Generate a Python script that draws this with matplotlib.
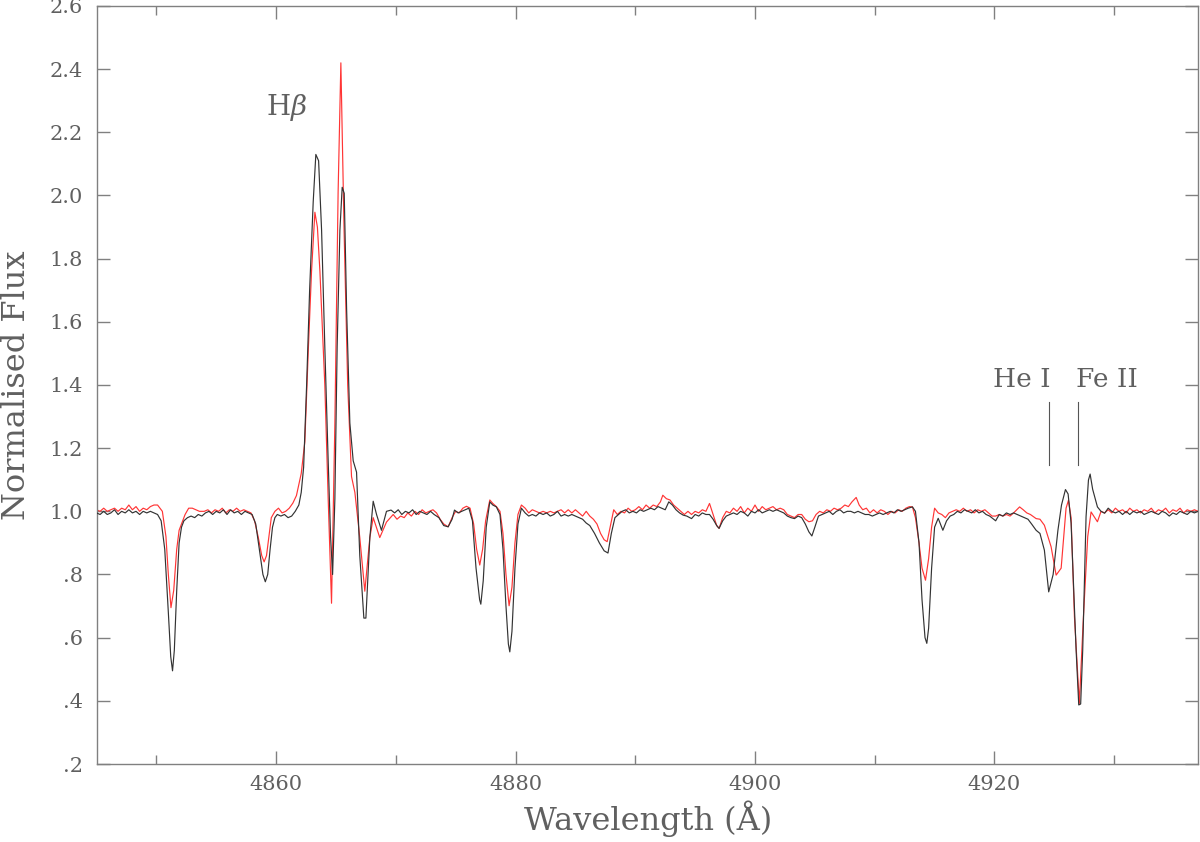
import numpy as np
import matplotlib
matplotlib.use("Agg")
import matplotlib.pyplot as plt
from matplotlib.ticker import MultipleLocator

# spectrum 1 (black)
wl_black = [
    4845.0, 4845.3, 4845.6, 4845.9, 4846.2, 4846.5, 4846.8, 4847.1, 4847.4, 4847.7,
    4848.0, 4848.3, 4848.6, 4848.9, 4849.2, 4849.5, 4849.8, 4850.1, 4850.4, 4850.7,
    4851.0, 4851.2, 4851.35, 4851.5, 4851.7, 4851.9, 4852.1, 4852.3, 4852.6, 4852.9,
    4853.2, 4853.5, 4853.8, 4854.1, 4854.4, 4854.7, 4855.0, 4855.3, 4855.6, 4855.9,
    4856.2, 4856.5, 4856.8, 4857.1, 4857.4, 4857.7, 4858.0, 4858.3, 4858.6, 4858.9,
    4859.1, 4859.3, 4859.5, 4859.7, 4859.9, 4860.1, 4860.4, 4860.7, 4861.0, 4861.3,
    4861.6, 4861.9, 4862.1, 4862.3, 4862.55, 4862.8, 4863.1, 4863.32, 4863.55, 4863.8,
    4864.07, 4864.35, 4864.55, 4864.72, 4864.91, 4865.1, 4865.33, 4865.52, 4865.69, 4865.89,
    4866.16, 4866.44, 4866.72, 4866.99, 4867.33, 4867.5, 4867.83, 4868.11, 4868.39, 4868.8,
    4869.22, 4869.6, 4869.9, 4870.2, 4870.5, 4870.8, 4871.1, 4871.4, 4871.7, 4872.0,
    4872.3, 4872.6, 4872.9, 4873.2, 4873.6, 4874.0, 4874.37, 4874.7, 4874.9, 4875.2,
    4875.5, 4875.8, 4876.1, 4876.4, 4876.7, 4877.0, 4877.1, 4877.3, 4877.55, 4877.85,
    4878.1, 4878.4, 4878.7, 4878.95, 4879.2, 4879.4, 4879.52, 4879.7, 4879.95, 4880.2,
    4880.49, 4880.8, 4881.1, 4881.4, 4881.7, 4882.0, 4882.3, 4882.6, 4882.9, 4883.2,
    4883.5, 4883.8, 4884.1, 4884.4, 4884.7, 4885.0, 4885.3, 4885.6, 4885.9, 4886.2,
    4886.6, 4887.0, 4887.4, 4887.72, 4888.0, 4888.3, 4888.6, 4888.9, 4889.2, 4889.5,
    4889.8, 4890.1, 4890.4, 4890.7, 4891.0, 4891.3, 4891.6, 4891.9, 4892.2, 4892.5,
    4892.8, 4893.1, 4893.4, 4893.7, 4894.0, 4894.3, 4894.7, 4895.0, 4895.3, 4895.6,
    4895.9, 4896.2, 4896.5, 4896.8, 4897.0, 4897.3, 4897.6, 4897.9, 4898.2, 4898.5,
    4898.8, 4899.1, 4899.4, 4899.7, 4900.0, 4900.3, 4900.6, 4900.9, 4901.2, 4901.5,
    4901.8, 4902.1, 4902.4, 4902.7, 4903.0, 4903.3, 4903.6, 4903.9, 4904.2, 4904.5,
    4904.75, 4905.0, 4905.3, 4905.6, 4905.9, 4906.2, 4906.5, 4906.8, 4907.1, 4907.4,
    4907.7, 4908.0, 4908.3, 4908.6, 4908.9, 4909.2, 4909.5, 4909.8, 4910.1, 4910.4,
    4910.7, 4911.0, 4911.3, 4911.6, 4911.9, 4912.2, 4912.5, 4912.8, 4913.15, 4913.4,
    4913.7, 4913.95, 4914.2, 4914.35, 4914.5, 4914.75, 4915.0, 4915.3, 4915.69, 4916.0,
    4916.3, 4916.6, 4916.9, 4917.2, 4917.5, 4917.8, 4918.1, 4918.4, 4918.7, 4919.0,
    4919.3, 4919.6, 4920.1, 4920.4, 4920.7, 4921.0, 4921.3, 4921.6, 4921.9, 4922.2,
    4922.5, 4922.8, 4923.1, 4923.48, 4923.8, 4924.17, 4924.53, 4924.9, 4925.3, 4925.6,
    4925.93, 4926.15, 4926.4, 4926.82, 4927.04, 4927.2, 4927.37, 4927.65, 4927.85, 4927.99,
    4928.2, 4928.6, 4928.9, 4929.2, 4929.5, 4929.8, 4930.1, 4930.4, 4930.7, 4931.0,
    4931.3, 4931.6, 4931.9, 4932.2, 4932.5, 4932.8, 4933.1, 4933.4, 4933.7, 4934.0,
    4934.3, 4934.6, 4934.9, 4935.2, 4935.5, 4935.8, 4936.1, 4936.4, 4936.7, 4937.0,
]
flux_black = [
    0.995, 0.99, 1.0, 0.99, 0.995, 1.005, 0.99, 1.0, 0.995, 1.005,
    0.995, 1.0, 0.99, 1.0, 0.995, 1.0, 0.995, 0.99, 0.97, 0.88,
    0.68, 0.54, 0.495, 0.56, 0.75, 0.90, 0.95, 0.97, 0.98, 0.985,
    0.98, 0.99, 0.985, 0.995, 1.0, 0.99, 1.0, 0.995, 1.005, 0.99,
    1.005, 0.995, 1.0, 0.99, 1.0, 0.995, 0.99, 0.96, 0.88, 0.80,
    0.777, 0.80, 0.88, 0.95, 0.98, 0.99, 0.985, 0.99, 0.98, 0.985,
    1.0, 1.02, 1.06, 1.14, 1.40, 1.70, 1.98, 2.13, 2.11, 1.89,
    1.52, 1.16, 0.92, 0.80, 1.04, 1.52, 1.89, 2.026, 2.007, 1.64,
    1.28, 1.16, 1.124, 0.86, 0.662, 0.662, 0.917, 1.032, 0.99, 0.94,
    1.0, 1.004, 0.995, 1.005, 0.99, 1.0, 0.995, 1.005, 0.99, 1.0,
    0.995, 0.99, 1.0, 0.99, 0.98, 0.955, 0.951, 0.975, 1.004, 0.995,
    1.0, 1.005, 1.01, 0.97, 0.82, 0.72, 0.706, 0.78, 0.95, 1.03,
    1.02, 1.014, 0.99, 0.88, 0.70, 0.58, 0.555, 0.62, 0.82, 0.96,
    1.01, 0.995, 0.985, 0.99, 0.985, 0.995, 0.99, 0.995, 0.985, 0.99,
    1.0, 0.985, 0.99, 0.985, 0.99, 0.985, 0.98, 0.975, 0.963, 0.955,
    0.93, 0.90, 0.875, 0.868, 0.93, 0.98, 0.99, 1.0, 1.005, 0.995,
    1.0, 0.995, 1.005, 1.0, 1.005, 1.01, 1.005, 1.015, 1.01, 1.005,
    1.03, 1.02, 1.005, 0.995, 0.988, 0.985, 0.977, 0.99, 0.985, 0.995,
    0.99, 0.99, 0.975, 0.955, 0.946, 0.97, 0.985, 0.99, 0.995, 0.99,
    1.0, 0.995, 0.985, 1.0, 0.995, 1.005, 0.995, 1.0, 1.005, 1.0,
    1.005, 1.0, 0.995, 0.985, 0.98, 0.977, 0.985, 0.98, 0.96, 0.935,
    0.922, 0.95, 0.985, 0.99, 0.995, 1.0, 0.99, 1.0, 1.005, 0.995,
    1.0, 1.0, 0.995, 1.0, 0.995, 0.99, 0.99, 0.985, 0.99, 0.995,
    0.99, 0.995, 1.0, 0.995, 1.005, 1.0, 1.005, 1.01, 1.014, 1.0,
    0.90, 0.72, 0.60, 0.582, 0.63, 0.82, 0.95, 0.978, 0.94, 0.97,
    0.985, 0.99, 1.0, 0.995, 1.005, 1.0, 0.995, 1.005, 0.995, 1.0,
    0.99, 0.985, 0.97, 0.99, 0.985, 0.995, 0.99, 0.995, 0.99, 0.985,
    0.98, 0.975, 0.96, 0.94, 0.93, 0.877, 0.745, 0.80, 0.94, 1.02,
    1.069, 1.055, 0.963, 0.56, 0.387, 0.39, 0.56, 0.983, 1.099, 1.118,
    1.07, 1.014, 1.0, 0.994, 1.01, 1.0, 0.995, 1.0, 0.99, 1.0,
    0.99, 1.0, 0.995, 1.0, 0.99, 0.995, 1.0, 0.995, 0.99, 1.0,
    0.995, 0.985, 0.995, 0.99, 1.0, 0.995, 0.99, 1.0, 0.995, 1.0,
]

# spectrum 2 (red)
wl_red = [
    4845.0, 4845.3, 4845.6, 4845.9, 4846.2, 4846.5, 4846.8, 4847.1, 4847.4, 4847.7,
    4848.0, 4848.3, 4848.6, 4848.9, 4849.2, 4849.5, 4849.8, 4850.1, 4850.5, 4850.8,
    4851.0, 4851.22, 4851.45, 4851.7, 4851.9, 4852.1, 4852.4, 4852.7, 4853.0, 4853.3,
    4853.6, 4854.0, 4854.3, 4854.6, 4854.9, 4855.2, 4855.5, 4855.8, 4856.1, 4856.4,
    4856.7, 4857.0, 4857.3, 4857.6, 4857.9, 4858.2, 4858.5, 4858.8, 4859.0, 4859.2,
    4859.4, 4859.6, 4859.9, 4860.2, 4860.5, 4860.8, 4861.1, 4861.4, 4861.7, 4862.1,
    4862.4, 4862.7, 4862.96, 4863.24, 4863.45, 4863.66, 4864.07, 4864.35, 4864.63, 4864.91,
    4865.18, 4865.41, 4865.68, 4865.98, 4866.3, 4866.58, 4866.99, 4867.41, 4867.83, 4868.11,
    4868.66, 4869.22, 4869.78, 4870.1, 4870.4, 4870.7, 4871.0, 4871.3, 4871.6, 4871.9,
    4872.2, 4872.5, 4872.8, 4873.1, 4873.4, 4873.7, 4874.0, 4874.37, 4874.7, 4875.0,
    4875.3, 4875.6, 4875.9, 4876.2, 4876.5, 4876.75, 4877.01, 4877.25, 4877.5, 4877.85,
    4878.1, 4878.4, 4878.7, 4878.95, 4879.2, 4879.46, 4879.7, 4879.95, 4880.2, 4880.49,
    4880.8, 4881.1, 4881.4, 4881.7, 4882.0, 4882.3, 4882.6, 4882.9, 4883.2, 4883.5,
    4883.8, 4884.1, 4884.4, 4884.7, 4885.0, 4885.3, 4885.6, 4885.9, 4886.2, 4886.5,
    4886.8, 4887.1, 4887.4, 4887.65, 4887.9, 4888.2, 4888.5, 4888.8, 4889.1, 4889.4,
    4889.7, 4890.0, 4890.3, 4890.6, 4890.9, 4891.2, 4891.5, 4891.8, 4892.1, 4892.3,
    4892.6, 4892.9, 4893.2, 4893.5, 4893.8, 4894.1, 4894.4, 4894.7, 4895.0, 4895.3,
    4895.6, 4895.9, 4896.2, 4896.5, 4896.8, 4897.0, 4897.3, 4897.6, 4897.9, 4898.2,
    4898.5, 4898.8, 4899.1, 4899.4, 4899.7, 4900.0, 4900.3, 4900.6, 4900.9, 4901.2,
    4901.5, 4901.8, 4902.1, 4902.4, 4902.7, 4903.0, 4903.3, 4903.6, 4903.9, 4904.2,
    4904.5, 4904.8, 4905.1, 4905.4, 4905.7, 4906.0, 4906.3, 4906.6, 4906.9, 4907.2,
    4907.5, 4907.8, 4908.1, 4908.45, 4908.7, 4909.0, 4909.3, 4909.6, 4909.9, 4910.2,
    4910.5, 4910.8, 4911.1, 4911.4, 4911.7, 4912.0, 4912.3, 4912.6, 4912.9, 4913.15,
    4913.4, 4913.7, 4913.95, 4914.24, 4914.5, 4914.75, 4915.0, 4915.3, 4915.6, 4915.9,
    4916.2, 4916.5, 4916.8, 4917.1, 4917.4, 4917.7, 4918.0, 4918.3, 4918.6, 4918.9,
    4919.2, 4919.5, 4919.8, 4920.1, 4920.4, 4920.7, 4921.0, 4921.3, 4921.6, 4922.1,
    4922.4, 4922.7, 4923.0, 4923.48, 4923.8, 4924.17, 4924.73, 4925.15, 4925.57, 4925.98,
    4926.18, 4926.4, 4926.68, 4927.09, 4927.43, 4927.79, 4928.07, 4928.6, 4928.9, 4929.2,
    4929.5, 4929.8, 4930.1, 4930.4, 4930.7, 4931.0, 4931.3, 4931.6, 4931.9, 4932.2,
    4932.5, 4932.8, 4933.1, 4933.4, 4933.7, 4934.0, 4934.3, 4934.6, 4934.9, 4935.2,
    4935.5, 4935.8, 4936.1, 4936.4, 4936.7, 4937.0,
]
flux_red = [
    1.005, 1.0, 1.01, 1.0, 1.005, 1.01, 1.0, 1.01, 1.005, 1.02,
    1.005, 1.015, 1.0, 1.01, 1.005, 1.015, 1.02, 1.02, 1.0, 0.92,
    0.80, 0.695, 0.75, 0.88, 0.94, 0.96, 0.99, 1.01, 1.01, 1.005,
    1.0, 1.0, 1.005, 0.995, 1.005, 1.0, 1.01, 0.995, 1.005, 1.0,
    1.01, 1.0, 1.005, 1.0, 0.995, 0.97, 0.92, 0.86, 0.84, 0.86,
    0.92, 0.98, 1.0, 1.01, 0.995, 1.0, 1.01, 1.026, 1.05, 1.12,
    1.22, 1.52, 1.76, 1.947, 1.90, 1.76, 1.40, 1.04, 0.709, 1.28,
    2.01, 2.42, 1.887, 1.40, 1.11, 1.06, 0.917, 0.747, 0.917, 0.98,
    0.917, 0.966, 0.99, 0.975, 0.985, 0.98, 0.995, 0.985, 1.0, 0.99,
    1.005, 0.995, 1.0, 1.005, 0.995, 0.975, 0.96, 0.951, 0.98, 1.0,
    0.995, 1.01, 1.016, 1.01, 0.96, 0.88, 0.83, 0.88, 0.97, 1.036,
    1.025, 1.015, 1.0, 0.93, 0.80, 0.701, 0.76, 0.90, 0.99, 1.02,
    1.01, 0.995, 1.005, 1.0, 0.995, 1.0, 0.995, 1.0, 0.995, 1.0,
    1.005, 0.995, 1.005, 0.995, 1.005, 0.995, 0.985, 1.0, 0.985, 0.975,
    0.96, 0.93, 0.91, 0.904, 0.95, 1.005, 0.99, 1.0, 0.995, 1.01,
    1.0, 1.005, 1.015, 1.005, 1.02, 1.01, 1.02, 1.015, 1.03, 1.051,
    1.04, 1.036, 1.02, 1.01, 1.0, 0.99, 1.0, 0.99, 1.0, 0.995,
    1.005, 1.0, 1.025, 0.99, 0.955, 0.946, 0.98, 1.0, 0.995, 1.01,
    1.0, 1.015, 0.995, 1.01, 1.0, 1.02, 1.0, 1.015, 1.005, 1.01,
    1.015, 1.005, 1.01, 1.005, 0.99, 0.985, 0.98, 0.99, 0.99, 0.975,
    0.967, 0.97, 0.99, 1.0, 0.995, 1.005, 1.0, 1.01, 1.005, 1.01,
    1.02, 1.015, 1.03, 1.044, 1.02, 1.005, 1.01, 0.995, 1.005, 0.995,
    1.005, 1.0, 0.99, 1.0, 0.995, 1.005, 1.0, 1.01, 1.015, 1.014,
    0.98, 0.90, 0.82, 0.782, 0.85, 0.95, 1.01, 0.995, 0.99, 0.98,
    0.995, 1.0, 1.005, 1.0, 1.01, 1.0, 1.005, 0.995, 1.005, 1.0,
    1.005, 0.995, 0.985, 0.985, 0.99, 0.985, 0.99, 0.985, 0.995, 1.014,
    1.005, 0.995, 0.99, 0.977, 0.975, 0.956, 0.888, 0.798, 0.82, 1.01,
    1.035, 0.98, 0.666, 0.392, 0.666, 0.92, 0.998, 0.967, 1.0, 0.995,
    1.005, 0.995, 1.01, 1.0, 1.005, 0.995, 1.01, 1.0, 1.005, 0.995,
    1.005, 1.0, 1.01, 0.995, 1.005, 1.0, 1.01, 0.995, 1.005, 1.0,
    1.01, 0.995, 1.005, 1.0, 1.005, 1.0,
]

xticks_major = [4860, 4880, 4900, 4920]
yticks = [0.2, 0.4, 0.6, 0.8, 1.0, 1.2, 1.4, 1.6, 1.8, 2.0, 2.2, 2.4, 2.6]
ytick_labels = ['.2', '.4', '.6', '.8', '1.0', '1.2', '1.4', '1.6', '1.8',
                '2.0', '2.2', '2.4', '2.6']

# line identifications: (label, wavelength, ha)
line_ids = [('He I', 4924.53, 'right'), ('Fe II', 4926.99, 'left')]

plt.rcParams['font.family'] = ['DejaVu Serif']
plt.rcParams['mathtext.fontset'] = 'dejavuserif'

txt = '#606060'
axc = '#808080'

fig = plt.figure(figsize=(12, 8.42), dpi=100)
ax = fig.add_axes([96.5 / 1200, 78 / 842, 1101.5 / 1200, 758 / 842])

ax.plot(wl_black, flux_black, color='#333333', lw=0.85, zorder=3)
ax.plot(wl_red, flux_red, color='#ff3535', lw=0.85, zorder=2)

ax.set_xlim(4845.0, 4937.0)
ax.set_ylim(0.2, 2.6)

ax.set_xticks(xticks_major)
ax.xaxis.set_minor_locator(MultipleLocator(10))
ax.set_yticks(yticks)
ax.set_yticklabels(ytick_labels)

ax.tick_params(axis='both', which='both', direction='in', top=True, right=True,
               color=axc, labelcolor=txt, labelsize=15, width=1)
ax.tick_params(axis='both', which='major', length=9.6)
ax.tick_params(axis='x', which='minor', length=6.2)
ax.tick_params(axis='x', which='major', pad=8)
ax.tick_params(axis='y', which='major', pad=10)
for s in ax.spines.values():
    s.set_color(axc)
    s.set_linewidth(1)

fig.text(17 / 1200, 1 - 385 / 842, 'Normalised Flux', rotation=90, ha='center',
         va='center', fontsize=23, color=txt)
fig.text(648 / 1200, 1 - 830 / 842, 'Wavelength (Å)', ha='center', va='baseline',
         fontsize=23, color=txt)

ax.text(4860.9, 2.255, r'H$\beta$', ha='center', va='baseline', fontsize=20, color=txt)

for name, wl, ha in line_ids:
    ax.plot([wl, wl], [1.146, 1.346], color='#555555', lw=0.8)
    off = 0.2 if ha == 'right' else -0.2
    ax.text(wl + off, 1.394, name, ha=ha, va='baseline', fontsize=19, color=txt)

fig.savefig('out.png', dpi=100)
